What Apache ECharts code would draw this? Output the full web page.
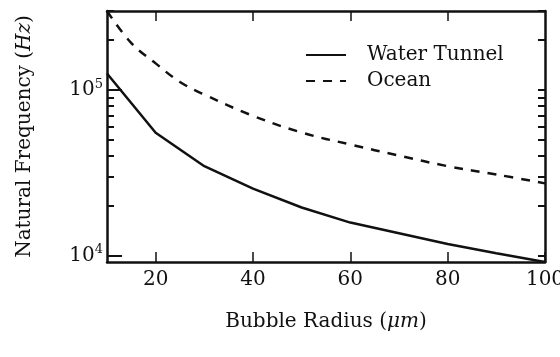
<!DOCTYPE html>
<html>
<head>
<meta charset="utf-8">
<script src="https://cdn.jsdelivr.net/npm/echarts@6/dist/echarts.min.js"></script>
<style>
  html, body { margin: 0; padding: 0; background: #fff; }
  #chart { width: 560px; height: 357px; }
</style>
</head>
<body>
<div id="chart"></div>
<script>
// bubble radius (um) -> natural frequency (Hz)
const waterRadius = [10, 20, 30, 40, 50, 60, 70, 80, 90, 100];
const waterFreq = [126000, 55300, 34800, 25500, 19600, 15900, 13700, 11800, 10400, 9200];
const oceanRadius = [10, 15, 20, 25, 30, 40, 50, 60, 70, 80, 90, 100];
const oceanFreq = [300000, 192000, 145000, 112000, 94000, 70000, 55500, 47000, 40300, 34800, 31000, 27400];

const xTicks = [20, 40, 60, 80, 100];
const yMajor = [10000, 100000];
const yMinor = [20000, 30000, 40000, 50000, 60000, 70000, 80000, 90000, 200000, 300000];

const FONT = "DejaVu Serif";
const INK = "#111";

const chart = echarts.init(document.getElementById("chart"));

const pairs = (xs, ys) => xs.map((x, i) => [x, ys[i]]);

const yBase = { type: "log", min: 9200, max: 300000, splitLine: { show: false } };

const option = {
  animation: false,
  grid: { left: 107, right: 15, top: 11, bottom: 95, containLabel: false, outerBoundsMode: "none" },
  legend: {
    orient: "vertical",
    left: 300,
    top: 40,
    itemWidth: 40,
    itemHeight: 14,
    itemGap: 6,
    itemStyle: { opacity: 0 },
    textStyle: { fontFamily: FONT, fontSize: 20, color: INK, padding: [0, 0, 0, 16] },
    data: ["Water Tunnel", "Ocean"]
  },
  xAxis: [
    {
      type: "value",
      min: 10,
      max: 100,
      name: "Bubble Radius ({i|μm})",
      nameLocation: "middle",
      nameGap: 50,
      nameTextStyle: {
        fontFamily: FONT, fontSize: 20, color: INK,
        rich: { i: { fontFamily: FONT, fontSize: 20, fontStyle: "italic", color: INK } }
      },
      axisLine: { lineStyle: { color: INK, width: 2.5 } },
      axisTick: { inside: true, length: 10, customValues: xTicks, lineStyle: { color: INK, width: 1.5 } },
      axisLabel: { customValues: xTicks, margin: 8, fontFamily: FONT, fontSize: 20, color: INK },
      splitLine: { show: false }
    },
    {
      type: "value",
      position: "top",
      min: 10,
      max: 100,
      axisLine: { lineStyle: { color: INK, width: 2.5 } },
      axisTick: { inside: true, length: 10, customValues: [20, 40, 60, 80], lineStyle: { color: INK, width: 1.5 } },
      axisLabel: { show: false },
      splitLine: { show: false }
    }
  ],
  yAxis: [
    {
      ...yBase,
      position: "left",
      name: "Natural Frequency ({i|Hz})",
      nameLocation: "middle",
      nameGap: 72,
      nameTextStyle: {
        fontFamily: FONT, fontSize: 20, color: INK,
        rich: { i: { fontFamily: FONT, fontSize: 20, fontStyle: "italic", color: INK } }
      },
      axisLine: { lineStyle: { color: INK, width: 2.5 } },
      axisTick: { inside: true, length: 15, customValues: yMajor, lineStyle: { color: INK, width: 2 } },
      axisLabel: {
        customValues: yMajor,
        margin: 4,
        formatter: (v) => "{b|10}{s|" + Math.round(Math.log10(v)) + "}",
        rich: {
          b: { fontFamily: FONT, fontSize: 20, color: INK },
          s: { fontFamily: FONT, fontSize: 13, color: INK, verticalAlign: "top", padding: [0, 0, 12, 0] }
        }
      }
    },
    {
      ...yBase,
      position: "left",
      axisLine: { show: false },
      axisTick: { inside: true, length: 7, customValues: yMinor, lineStyle: { color: INK, width: 2 } },
      axisLabel: { show: false }
    },
    {
      ...yBase,
      position: "right",
      axisLine: { lineStyle: { color: INK, width: 2.5 } },
      axisTick: { inside: true, length: 7, customValues: yMinor.concat(yMajor), lineStyle: { color: INK, width: 2 } },
      axisLabel: { show: false }
    }
  ],
  series: [
    {
      name: "Water Tunnel",
      type: "line",
      data: pairs(waterRadius, waterFreq),
      symbol: "none",
      lineStyle: { color: INK, width: 2.5 },
      itemStyle: { color: INK }
    },
    {
      name: "Ocean",
      type: "line",
      data: pairs(oceanRadius, oceanFreq),
      symbol: "none",
      smooth: 0.4,
      lineStyle: { color: INK, width: 2.5, type: [9, 8] },
      itemStyle: { color: INK }
    }
  ]
};

chart.setOption(option);
window.addEventListener("resize", () => chart.resize());
</script>
</body>
</html>
